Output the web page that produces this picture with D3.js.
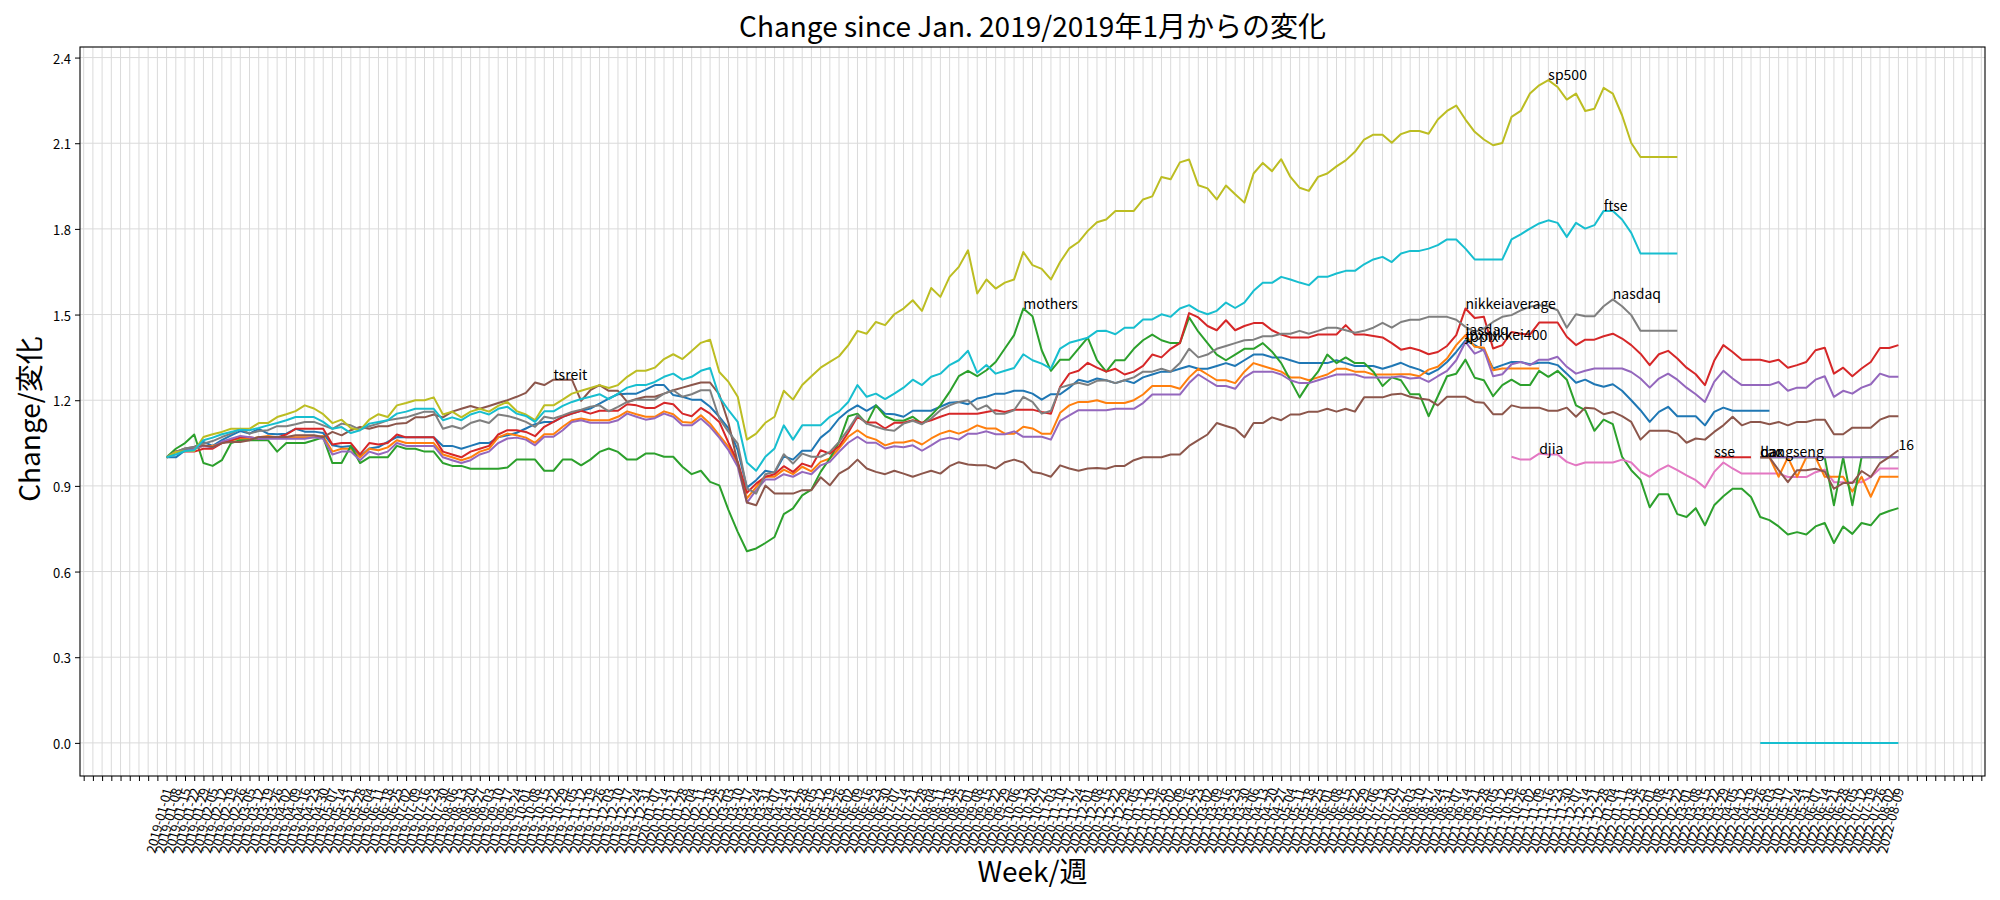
<!DOCTYPE html>
<html><head><meta charset="utf-8">
<script src="https://cdn.jsdelivr.net/npm/d3@7"></script>
<style>
body{margin:0;background:#fff}
text{font-family:"Noto Sans CJK JP","Noto Sans",sans-serif;fill:#000}
</style>
</head><body>
<svg id="chart" width="2000" height="900"></svg>
<script>
// ---------- categories (weekly, starting 2019-01-01) ----------
const firstWeek = new Date(2019, 0, 1);
const weekCount = 189;
const weeks = d3.range(weekCount).map(k => d3.timeFormat("%Y-%m-%d")(d3.timeDay.offset(firstWeek, 7 * k)));
const yTicks = [0.0, 0.3, 0.6, 0.9, 1.2, 1.5, 1.8, 2.1, 2.4];

// ---------- series values (start index + weekly values) ----------
const jpxnikkei400Start = 0;
const jpxnikkei400 = [1.0,1.0,1.024,1.036,1.054,1.04,1.06,1.077,1.092,1.083,1.1,1.083,1.081,1.083,1.1,1.09,1.09,1.085,1.042,1.036,1.04,1.003,1.031,1.036,1.054,1.071,
1.07,1.07,1.07,1.07,1.04,1.04,1.03,1.04,1.05,1.05,1.07,
1.077,1.086,1.101,1.116,1.124,1.124,1.142,1.153,1.163,1.171,1.188,1.206,1.221,1.223,1.223,1.237,1.253,1.253,1.218,1.212,1.202,1.202,1.177,1.142,1.101,1.025,0.894,0.92,0.953,0.946,1.004,0.992,1.023,1.023,1.069,1.095,1.136,1.163,1.182,1.163,1.182,1.153,1.151,1.142,1.163,1.163,1.163,1.177,1.191,1.194,1.186,1.206,1.212,1.223,1.223,1.233,1.233,1.223,1.202,1.221,1.221,1.244,1.272,1.264,1.276,
1.27,1.26,1.27,1.26,1.28,1.29,1.30,1.30,1.31,1.32,1.31,1.31,1.32,1.33,1.32,1.34,1.36,1.36,1.35,1.35,1.34,1.33,1.33,1.33,1.33,1.34,1.33,1.32,1.32,1.32,1.31,1.32,
1.331,1.317,1.307,1.291,1.307,1.334,1.369,1.41,1.393,1.375,1.311,1.323,1.334,1.334,1.326,1.331,1.331,1.323,1.293,1.261,1.272,1.256,1.247,1.256,1.233,1.2,1.165,1.124,1.159,1.177,1.144,1.144,1.144,1.112,1.159,1.174,1.163,1.163,1.163,1.163,1.163];

const jasdaqStart = 0;
const jasdaq = [1.0,1.02,1.025,1.03,1.04,1.04,1.05,1.06,1.065,1.065,1.07,1.075,1.07,1.07,1.07,1.07,1.07,1.075,1.02,1.03,1.03,1.0,1.03,1.025,1.035,1.06,
1.05,1.05,1.05,1.05,1.01,1.0,0.99,1.0,1.02,1.03,1.07,
1.083,1.077,1.069,1.051,1.081,1.081,1.107,1.13,1.136,1.13,1.13,1.13,1.142,1.161,1.151,1.142,1.142,1.161,1.151,1.124,1.121,1.147,1.118,1.077,1.037,0.978,0.856,0.896,0.932,0.932,0.957,0.941,0.967,0.951,0.984,0.996,1.031,1.072,1.095,1.072,1.062,1.042,1.052,1.052,1.06,1.045,1.066,1.083,1.093,1.083,1.095,1.112,1.101,1.101,1.083,1.083,1.107,1.101,1.083,1.083,1.156,1.182,1.194,1.194,1.2,
1.19,1.19,1.19,1.20,1.22,1.25,1.25,1.25,1.24,1.28,1.31,1.29,1.27,1.27,1.26,1.30,1.33,1.32,1.31,1.30,1.28,1.28,1.27,1.28,1.29,1.31,1.31,1.30,1.30,1.29,1.29,1.29,
1.291,1.291,1.284,1.307,1.317,1.346,1.393,1.428,1.387,1.384,1.305,1.311,1.311,1.311,1.311,1.311];

const mothersStart = 0;
const mothers = [1.0,1.03,1.05,1.08,0.98,0.97,0.99,1.05,1.06,1.06,1.06,1.06,1.02,1.05,1.05,1.05,1.06,1.07,0.98,0.98,1.04,0.98,1.0,1.0,1.0,1.04,
1.03,1.03,1.02,1.02,0.98,0.97,0.97,0.96,0.96,0.96,0.96,
0.964,0.992,0.992,0.992,0.953,0.953,0.992,0.992,0.972,0.992,1.019,1.031,1.019,0.992,0.992,1.013,1.013,1.002,1.002,0.967,0.941,0.953,0.914,0.902,0.815,0.739,0.671,0.681,0.7,0.721,0.801,0.821,0.867,0.887,0.949,0.996,1.054,1.144,1.153,1.118,1.182,1.144,1.13,1.128,1.142,1.118,1.147,1.182,1.229,1.284,1.303,1.284,1.305,1.334,1.381,1.428,1.521,1.494,1.375,1.303,1.342,1.342,1.381,1.419,1.34,
1.30,1.34,1.34,1.38,1.41,1.43,1.41,1.40,1.40,1.49,1.44,1.40,1.36,1.34,1.36,1.38,1.38,1.40,1.37,1.33,1.27,1.21,1.26,1.30,1.36,1.33,1.35,1.33,1.33,1.30,1.25,1.28,
1.27,1.221,1.221,1.144,1.214,1.284,1.293,1.342,1.279,1.27,1.214,1.253,1.272,1.253,1.253,1.303,1.282,1.303,1.272,1.182,1.165,1.093,1.132,1.116,1.002,0.955,0.922,0.825,0.871,0.871,0.801,0.791,0.822,0.762,0.832,0.864,0.89,0.89,0.861,0.791,0.78,0.758,0.73,0.738,0.73,0.758,0.77,0.7,0.758,0.732,0.77,0.762,0.8,0.812,0.822];

const nikkeiaverageStart = 0;
const nikkeiaverage = [1.0,1.02,1.02,1.02,1.03,1.03,1.05,1.06,1.07,1.07,1.065,1.07,1.07,1.08,1.1,1.1,1.1,1.1,1.045,1.05,1.05,1.01,1.05,1.045,1.05,1.08,
1.07,1.07,1.07,1.07,1.02,1.01,1.0,1.02,1.03,1.04,1.08,
1.095,1.095,1.089,1.074,1.107,1.124,1.142,1.153,1.163,1.153,1.163,1.163,1.163,1.186,1.182,1.173,1.173,1.191,1.186,1.153,1.144,1.173,1.153,1.124,1.051,0.984,0.876,0.908,0.932,0.941,0.969,0.949,0.978,0.967,1.025,1.013,1.039,1.087,1.142,1.122,1.122,1.101,1.121,1.121,1.13,1.121,1.13,1.142,1.153,1.153,1.153,1.153,1.159,1.165,1.159,1.167,1.167,1.167,1.159,1.153,1.247,1.293,1.303,1.331,1.314,
1.30,1.31,1.29,1.30,1.32,1.36,1.35,1.38,1.40,1.505,1.49,1.46,1.445,1.48,1.445,1.46,1.47,1.47,1.445,1.43,1.42,1.42,1.42,1.43,1.43,1.43,1.463,1.43,1.43,1.425,1.42,1.40,
1.377,1.384,1.375,1.361,1.369,1.39,1.428,1.521,1.488,1.492,1.381,1.393,1.439,1.433,1.43,1.472,1.472,1.472,1.422,1.393,1.412,1.412,1.424,1.433,1.416,1.393,1.363,1.323,1.361,1.373,1.346,1.314,1.291,1.253,1.338,1.393,1.369,1.342,1.342,1.342,1.334,1.342,1.314,1.323,1.334,1.375,1.384,1.293,1.314,1.284,1.311,1.334,1.383,1.383,1.393];

const topixStart = 0;
const topix = [1.0,1.02,1.025,1.03,1.04,1.035,1.055,1.065,1.075,1.07,1.065,1.065,1.065,1.065,1.065,1.065,1.07,1.065,1.01,1.02,1.02,0.99,1.02,1.01,1.02,1.05,
1.04,1.04,1.04,1.04,1.0,0.99,0.98,0.99,1.01,1.02,1.05,
1.066,1.069,1.062,1.042,1.072,1.072,1.095,1.124,1.13,1.121,1.121,1.121,1.13,1.153,1.142,1.132,1.137,1.153,1.142,1.112,1.112,1.136,1.107,1.069,1.025,0.967,0.841,0.885,0.922,0.922,0.941,0.932,0.949,0.941,0.972,0.984,1.019,1.051,1.072,1.051,1.051,1.031,1.039,1.035,1.042,1.023,1.042,1.062,1.069,1.062,1.083,1.083,1.091,1.081,1.081,1.091,1.072,1.072,1.072,1.062,1.128,1.147,1.165,1.165,1.165,
1.165,1.17,1.17,1.17,1.19,1.22,1.22,1.22,1.22,1.26,1.29,1.27,1.25,1.25,1.24,1.28,1.30,1.30,1.30,1.29,1.27,1.26,1.26,1.27,1.28,1.29,1.29,1.29,1.28,1.28,1.28,1.28,
1.284,1.276,1.279,1.264,1.284,1.303,1.34,1.404,1.363,1.377,1.284,1.291,1.326,1.334,1.323,1.342,1.342,1.352,1.317,1.293,1.303,1.311,1.311,1.311,1.311,1.299,1.276,1.244,1.276,1.293,1.272,1.244,1.221,1.194,1.264,1.303,1.276,1.253,1.253,1.253,1.253,1.264,1.233,1.244,1.244,1.272,1.284,1.212,1.233,1.223,1.244,1.256,1.293,1.282,1.282];

const tsreitStart = 0;
const tsreit = [1.0,1.019,1.031,1.036,1.042,1.036,1.05,1.054,1.054,1.06,1.071,1.071,1.071,1.071,1.077,1.077,1.077,1.071,1.089,1.077,1.095,1.106,1.1,1.109,1.109,1.118,
1.12,1.14,1.14,1.15,1.14,1.16,1.17,1.18,1.17,1.18,1.19,
1.2,1.212,1.226,1.262,1.253,1.272,1.272,1.272,1.198,1.235,1.253,1.233,1.233,1.194,1.204,1.212,1.212,1.223,1.235,1.244,1.253,1.262,1.262,1.22,1.12,0.98,
0.842,0.832,0.901,0.873,0.873,0.873,0.885,0.885,0.93,0.902,0.943,0.961,0.992,0.961,0.949,0.941,0.953,0.943,0.932,0.943,0.953,0.943,0.969,0.983,0.975,0.972,0.972,0.961,0.983,0.992,0.982,0.949,0.943,0.932,0.972,0.961,0.953,0.961,0.963,
0.96,0.97,0.97,0.99,1.0,1.0,1.0,1.01,1.01,1.04,1.06,1.08,1.12,1.11,1.10,1.07,1.12,1.12,1.14,1.13,1.15,1.15,1.16,1.16,1.17,1.16,1.17,1.16,1.21,1.21,1.21,1.22,
1.223,1.212,1.206,1.202,1.182,1.212,1.212,1.212,1.194,1.191,1.151,1.151,1.182,1.174,1.174,1.174,1.163,1.163,1.174,1.142,1.174,1.171,1.151,1.159,1.144,1.124,1.062,1.093,1.093,1.093,1.083,1.051,1.066,1.062,1.089,1.112,1.142,1.112,1.124,1.124,1.116,1.124,1.112,1.124,1.124,1.132,1.132,1.081,1.081,1.104,1.104,1.104,1.132,1.144,1.144];

const djiaStart = 146;
const djia = [1.002,0.992,0.992,1.013,1.01,1.01,0.984,0.972,0.982,0.982,0.982,0.982,0.992,0.982,0.949,0.932,0.955,0.972,0.955,0.937,0.92,0.894,0.949,0.982,0.961,0.943,0.943,0.943,0.943,0.943,0.931,0.931,0.931,0.948,0.957,0.913,0.913,0.913,0.913,0.931,0.961,0.961,0.961];

const nasdaqStart = 0;
const nasdaq = [1.0,1.019,1.031,1.036,1.048,1.057,1.071,1.083,1.1,1.083,1.092,1.095,1.109,1.109,1.116,1.124,1.124,1.112,1.1,1.118,1.112,1.097,1.109,1.118,1.13,1.135,
1.14,1.15,1.16,1.16,1.10,1.11,1.10,1.12,1.13,1.12,1.15,
1.145,1.136,1.124,1.107,1.142,1.136,1.147,1.159,1.167,1.177,1.182,1.161,1.177,1.194,1.202,1.202,1.202,1.223,1.235,1.212,1.221,1.235,1.235,1.136,1.089,1.048,0.891,0.873,0.941,0.949,1.011,0.978,1.013,1.002,1.002,1.019,1.054,1.098,1.147,1.118,1.107,1.097,1.093,1.118,1.128,1.116,1.136,1.165,1.182,1.194,1.2,1.167,1.182,1.153,1.153,1.165,1.212,1.194,1.153,1.163,1.244,1.253,1.261,1.253,1.268,
1.27,1.26,1.27,1.28,1.30,1.30,1.31,1.30,1.33,1.38,1.35,1.36,1.38,1.39,1.40,1.41,1.412,1.424,1.424,1.433,1.433,1.443,1.433,1.443,1.454,1.454,1.445,1.436,1.443,1.454,1.471,1.454,
1.474,1.482,1.482,1.492,1.492,1.492,1.482,1.457,1.439,1.451,1.474,1.492,1.498,1.515,1.527,1.533,1.529,1.515,1.454,1.501,1.494,1.494,1.529,1.553,1.529,1.498,1.443,1.443,1.443,1.443,1.443];

const sp500Start = 0;
const sp500 = [1.0,1.019,1.022,1.022,1.071,1.081,1.089,1.1,1.1,1.1,1.12,1.12,1.141,1.151,1.162,1.182,1.171,1.151,1.12,1.132,1.103,1.095,1.132,1.151,1.141,1.182,
1.19,1.20,1.20,1.21,1.15,1.16,1.14,1.16,1.17,1.16,1.18,
1.194,1.162,1.15,1.13,1.182,1.182,1.202,1.223,1.233,1.243,1.253,1.243,1.253,1.282,1.303,1.303,1.314,1.344,1.361,1.344,1.372,1.401,1.412,1.299,1.264,1.212,1.062,1.083,1.121,1.142,1.233,1.202,1.253,1.284,1.314,1.334,1.354,1.393,1.443,1.433,1.474,1.463,1.501,1.521,1.55,1.513,1.593,1.562,1.632,1.667,1.725,1.574,1.623,1.591,1.612,1.623,1.719,1.673,1.66,1.623,1.684,1.732,1.754,1.793,1.823,
1.833,1.863,1.863,1.863,1.903,1.914,1.982,1.974,2.033,2.043,1.953,1.942,1.903,1.952,1.921,1.892,1.994,2.031,2.002,2.044,1.982,1.944,1.933,1.982,1.994,2.019,2.04,2.07,2.113,2.13,2.13,2.102,2.132,2.143,2.143,2.133,2.183,2.213,2.232,2.183,2.14,2.113,2.093,2.101,2.192,2.213,2.274,2.303,2.321,2.297,2.253,2.274,2.213,2.221,2.294,2.274,2.198,2.101,2.052,2.052,2.052,2.052,2.052];

const ftseStart = 0;
const ftse = [1.0,1.01,1.022,1.025,1.06,1.069,1.081,1.089,1.097,1.095,1.103,1.112,1.12,1.13,1.141,1.141,1.141,1.124,1.1,1.106,1.085,1.095,1.118,1.124,1.13,1.153,
1.16,1.17,1.17,1.17,1.13,1.14,1.13,1.15,1.16,1.15,1.17,
1.177,1.153,1.145,1.124,1.161,1.161,1.18,1.194,1.204,1.212,1.221,1.204,1.223,1.244,1.253,1.253,1.264,1.282,1.293,1.272,1.282,1.303,1.313,1.212,1.165,1.124,0.982,0.953,1.002,1.031,1.112,1.062,1.112,1.112,1.112,1.142,1.161,1.194,1.253,1.212,1.223,1.204,1.223,1.244,1.272,1.253,1.282,1.293,1.323,1.34,1.373,1.296,1.323,1.293,1.303,1.313,1.361,1.34,1.328,1.311,1.381,1.401,1.41,1.419,1.442,
1.443,1.431,1.454,1.454,1.483,1.483,1.501,1.492,1.521,1.533,1.513,1.501,1.513,1.542,1.523,1.542,1.583,1.611,1.611,1.632,1.623,1.612,1.603,1.632,1.632,1.644,1.653,1.653,1.676,1.693,1.702,1.684,1.714,1.723,1.723,1.731,1.743,1.763,1.763,1.731,1.693,1.693,1.693,1.693,1.763,1.781,1.801,1.819,1.83,1.821,1.772,1.821,1.801,1.813,1.863,1.863,1.833,1.786,1.714,1.714,1.714,1.714,1.714];

const daxStart = 173;
const dax = [1.0,1.0,0.932,1.0,0.932,1.0,1.0,0.932,0.932,0.932,0.88,0.932,0.862,0.932,0.932,0.932];
const cacStart = 173;
const cac = [1.0,1.0,1.0,1.0,1.0,1.0,1.0,1.0,0.832,1.0,0.832,1.0,1.0,1.0,1.0,1.0];
const sseStart = 168;
const sse = [1.0,1.0,1.0,1.0,1.0];
const hangsengStart = 173;
const hangseng = [1.0,1.0,1.0,1.0,1.0,1.0,1.0,1.0,1.0,1.0,1.0,1.0,1.0,1.0,1.0,1.0];
const col16Start = 173;
const col16 = [1.0,1.0,0.955,0.913,0.955,0.955,0.96,0.95,0.89,0.91,0.91,0.952,0.931,0.98,1.001,1.025];
const zeroStart = 173;
const zeroSeries = [0,0,0,0,0,0,0,0,0,0,0,0,0,0,0,0];

// ---------- series table ----------
const seriesTable = [
  {label:"jpxnikkei400", color:"#1f77b4", start:jpxnikkei400Start, values:jpxnikkei400},
  {label:"jasdaq", color:"#ff7f0e", start:jasdaqStart, values:jasdaq},
  {label:"mothers", color:"#2ca02c", start:mothersStart, values:mothers},
  {label:"nikkeiaverage", color:"#d62728", start:nikkeiaverageStart, values:nikkeiaverage},
  {label:"topix", color:"#9467bd", start:topixStart, values:topix},
  {label:"tsreit", color:"#8c564b", start:tsreitStart, values:tsreit},
  {label:"djia", color:"#e377c2", start:djiaStart, values:djia},
  {label:"nasdaq", color:"#7f7f7f", start:nasdaqStart, values:nasdaq},
  {label:"sp500", color:"#bcbd22", start:sp500Start, values:sp500},
  {label:"ftse", color:"#17becf", start:ftseStart, values:ftse},
  {label:"dax", color:"#ff7f0e", start:daxStart, values:dax},
  {label:"cac", color:"#2ca02c", start:cacStart, values:cac},
  {label:"sse", color:"#d62728", start:sseStart, values:sse},
  {label:"hangseng", color:"#9467bd", start:hangsengStart, values:hangseng},
  {label:"16", color:"#8c564b", start:col16Start, values:col16},
  {label:"", color:"#17becf", start:zeroStart, values:zeroSeries}
];

// ---------- layout ----------
const L = 80, R = 1985, T = 47, B = 776;
const svg = d3.select("#chart");
svg.append("rect").attr("width",2000).attr("height",900).attr("fill","#fff");

const x = d3.scaleLinear().domain([-9.4, 197.4]).range([L, R]);
const y = d3.scaleLinear().domain([-0.116, 2.437]).range([B, T]);
const xTickVals = d3.range(-9, 198);

// grid
const grid = svg.append("g");
grid.selectAll("line.v").data(xTickVals).join("line")
  .attr("x1", d => x(d)).attr("x2", d => x(d)).attr("y1", T).attr("y2", B)
  .attr("stroke", "#dadada").attr("stroke-width", 1);
grid.selectAll("line.h").data(yTicks).join("line")
  .attr("y1", d => y(d)).attr("y2", d => y(d)).attr("x1", L).attr("x2", R)
  .attr("stroke", "#dadada").attr("stroke-width", 1);

// lines
const line = d3.line().x(d => x(d.i)).y(d => y(d.v));
const plot = svg.append("g");
seriesTable.forEach(s => {
  const pts = s.values.map((v, k) => ({i: s.start + k, v}));
  plot.append("path").datum(pts).attr("d", line)
    .attr("fill", "none").attr("stroke", s.color).attr("stroke-width", 2)
    .attr("stroke-linejoin", "round");
});

// labels at each series' maximum
const labels = svg.append("g");
seriesTable.forEach(s => {
  if (!s.label) return;
  const k = d3.maxIndex(s.values);
  labels.append("text").attr("x", x(s.start + k)).attr("y", y(s.values[k]))
    .attr("font-size", 14).text(s.label);
});

// axes
const xAxis = d3.axisBottom(x).tickValues(xTickVals)
  .tickFormat(d => (d >= 0 && d < weeks.length) ? weeks[d] : "")
  .tickSize(5).tickSizeOuter(0);
const gx = svg.append("g").attr("transform", `translate(0,${B})`).call(xAxis);
gx.select(".domain").remove();
gx.selectAll(".tick line").attr("stroke", "#000").attr("stroke-width", 1);
gx.selectAll(".tick text")
  .attr("x", null).attr("y", null).attr("dy", null)
  .attr("transform", "translate(0,12) rotate(-75)")
  .attr("text-anchor", "end").attr("dominant-baseline", "central")
  .attr("font-size", 13).attr("fill", "#000");

const yAxis = d3.axisLeft(y).tickValues(yTicks).tickFormat(d3.format(".1f")).tickSize(5).tickSizeOuter(0);
const gy = svg.append("g").attr("transform", `translate(${L},0)`).call(yAxis);
gy.select(".domain").remove();
gy.selectAll(".tick line").attr("stroke", "#000").attr("stroke-width", 1);
gy.selectAll(".tick text").attr("x", -9).attr("dy", null)
  .attr("dominant-baseline", "central").attr("font-size", 13).attr("fill", "#000");

// frame
svg.append("rect").attr("x", L).attr("y", T).attr("width", R - L).attr("height", B - T)
  .attr("fill", "none").attr("stroke", "#000").attr("stroke-width", 1.1);

// titles
svg.append("text").attr("x", (L + R) / 2).attr("y", 37).attr("text-anchor", "middle")
  .attr("font-size", 28).text("Change since Jan. 2019/2019年1月からの変化");
svg.append("text").attr("x", (L + R) / 2).attr("y", 882).attr("text-anchor", "middle")
  .attr("font-size", 28).text("Week/週");
svg.append("text").attr("transform", "translate(40,419) rotate(-90)").attr("text-anchor", "middle")
  .attr("font-size", 28).text("Change/変化");
</script>
</body></html>
